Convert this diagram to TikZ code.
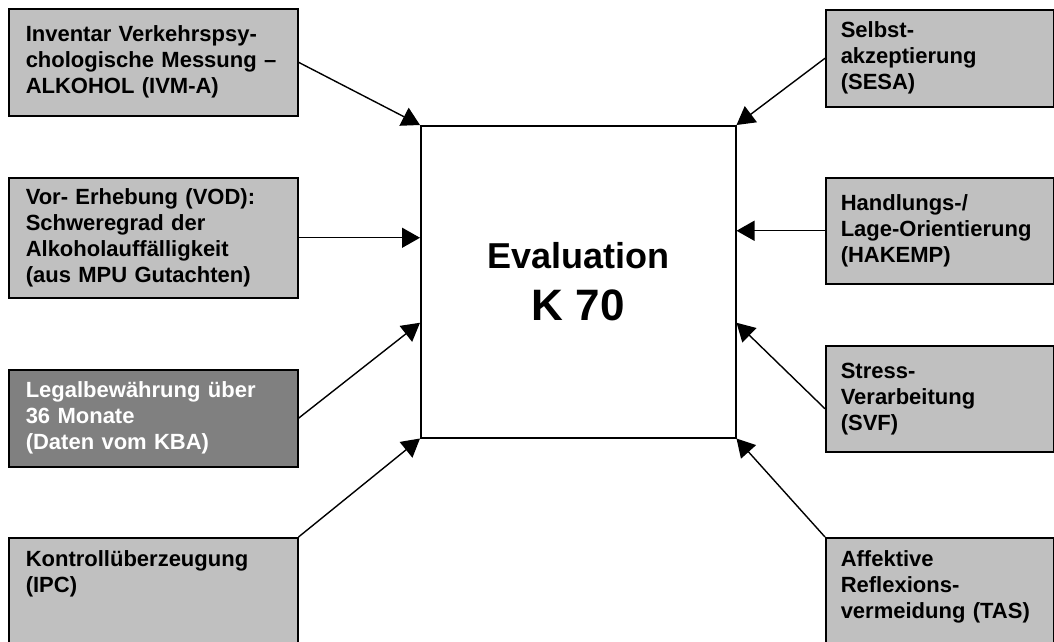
\documentclass[tikz,border=0pt]{standalone}
\usepackage{fontspec}
\setmainfont{Liberation Sans}
\usetikzlibrary{arrows.meta}
\definecolor{boxgray}{RGB}{192,192,192}
\definecolor{legalgray}{RGB}{128,128,128}
\tikzset{
  src/.style={draw, line width=1.5pt, fill=boxgray, anchor=north west, align=left,
    inner xsep=17pt, text width=255pt, font=\bfseries\fontsize{22}{26}\selectfont}, % left input boxes
  rsrc/.style={src, inner xsep=15pt, text width=198pt}, % right input boxes
  openbox/.style={inner ysep=13pt}, % boxes running off the bottom edge
  feed/.style={-{Triangle[length=18pt,width=20pt]}, line width=1.4pt}, % arrows into the evaluation
}
\begin{document}
\begin{tikzpicture}[x=1pt, y=-1pt]
\useasboundingbox (0,0) rectangle (1054,641);
\fill[white] (0,0) rectangle (1054,641);
\clip (0,0) rectangle (1054,641);
% centre
\node[draw, line width=1.5pt, anchor=north west, minimum width=315pt, minimum height=312pt,
  align=center, font=\bfseries\fontsize{36}{52}\selectfont] (eval) at (420,125)
  {Evaluation\\{\fontsize{44}{52}\selectfont K 70}};
% left side
\node[src, minimum height=107pt] (ivma) at (8,8)
  {Inventar Verkehrspsy-\\chologische Messung --\\ALKOHOL (IVM-A)};
\node[src, minimum height=120pt] (vod) at (8,177)
  {Vor- Erhebung (VOD):\\Schweregrad der\\Alkoholauffälligkeit\\(aus MPU Gutachten)};
\node[src, minimum height=97pt, fill=legalgray, text=white] (legal) at (8,369)
  {Legalbewährung über\\36 Monate\\(Daten vom KBA)};
\node[src, openbox] (ipc) at (8,537)
  {\parbox[t][100pt][t]{255pt}{\raggedright Kontrollüberzeugung\\(IPC)}};
% right side
\node[rsrc, minimum height=97pt] (sesa) at (825,9)
  {Selbst-\\akzeptierung\\(SESA)};
\node[rsrc, minimum height=106pt] (hakemp) at (825,177)
  {Handlungs-/\\Lage-Orientierung\\(HAKEMP)};
\node[rsrc, minimum height=106pt] (svf) at (825,345)
  {Stress-\\Verarbeitung\\(SVF)};
\node[rsrc, openbox] (tas) at (825,537)
  {\parbox[t][100pt][t]{198pt}{\raggedright Affektive\\Reflexions-\\vermeidung (TAS)}};
% arrows
\draw[feed] (ivma.east) -- (eval.north west);
\draw[feed] (vod.east) -- (vod.east -| eval.west);
\draw[feed] (legal.east) -- ([yshift=-41pt]eval.west);
\draw[feed] (ipc.north east) -- (eval.south west);
\draw[feed] (sesa.west) -- (eval.north east);
\draw[feed] (hakemp.west) -- (hakemp.west -| eval.east);
\draw[feed] ([yshift=-10pt]svf.west) -- ([yshift=-41pt]eval.east);
\draw[feed] (tas.north west) -- (eval.south east);
\end{tikzpicture}
\end{document}
